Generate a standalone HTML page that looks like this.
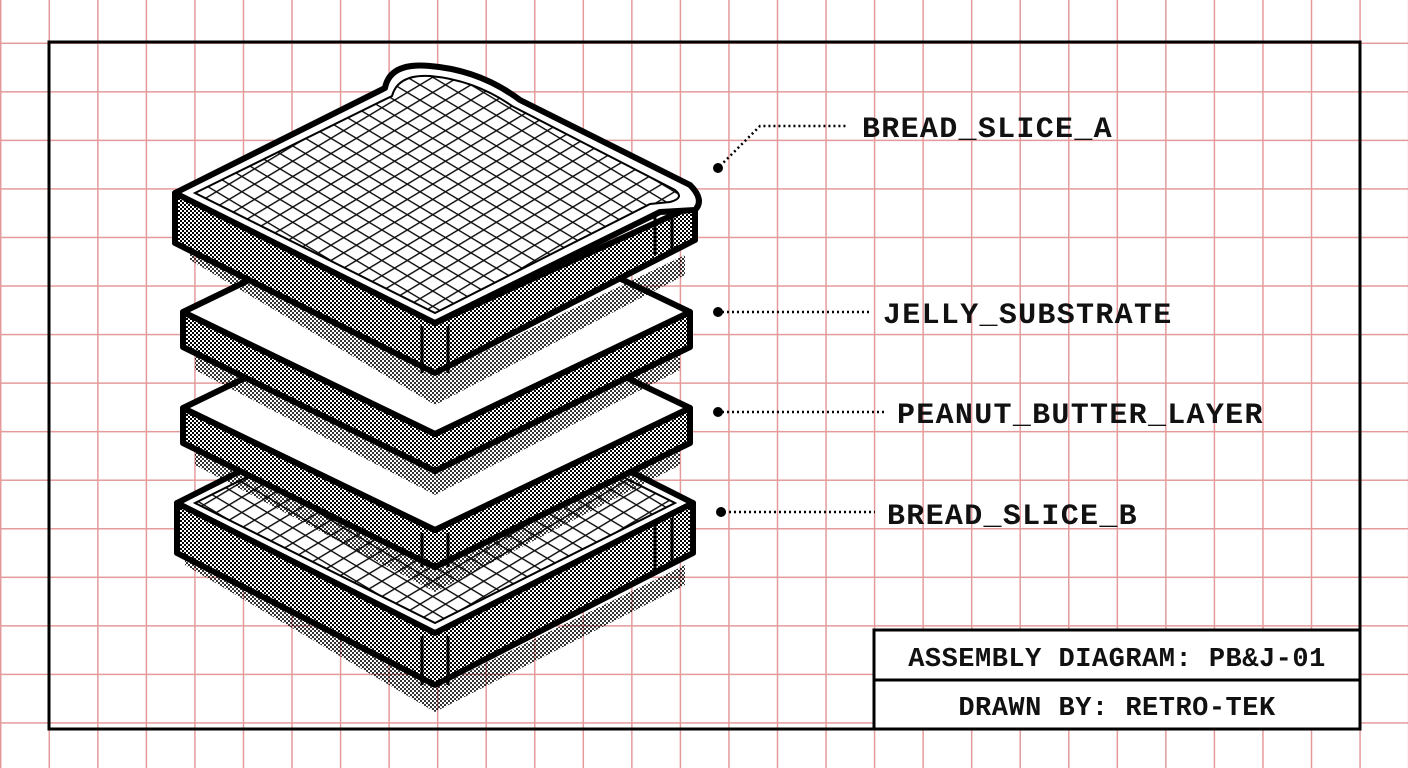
<!DOCTYPE html>
<html><head><meta charset="utf-8"><style>
html,body{margin:0;padding:0;background:#fff;}
body{width:1408px;height:768px;overflow:hidden;position:relative;
background-image:linear-gradient(to right,#e49a9a 0 1.5px,transparent 1.5px),linear-gradient(to bottom,#e49a9a 0 1.5px,transparent 1.5px);
background-size:48.55px 48.55px;background-position:0 -6px;}
svg{position:absolute;left:0;top:0;}
text{font-family:"Liberation Mono","DejaVu Sans Mono",monospace;font-weight:bold;fill:#111;}
</style></head><body>
<svg width="1408" height="768" viewBox="0 0 1408 768">
<defs>
<pattern id="d" width="4" height="4" patternUnits="userSpaceOnUse"><rect width="4" height="4" fill="#fff"/><rect width="2" height="2" fill="#000"/><rect x="2" y="2" width="2" height="2" fill="#000"/></pattern>
<pattern id="s" width="4" height="4" patternUnits="userSpaceOnUse"><rect width="2" height="2" fill="#000"/><rect x="2" y="2" width="2" height="2" fill="#000"/></pattern>
<pattern id="h" width="18" height="18" patternUnits="userSpaceOnUse" patternTransform="scale(1,0.6) rotate(45)"><rect width="18" height="18" fill="#fff"/><path d="M0 1H18M1 0V18" stroke="#111" stroke-width="2"/></pattern>
</defs>
<rect x="49" y="42" width="1311" height="687" fill="none" stroke="#000" stroke-width="3"/>

<!-- Bread B -->
<path d="M185 545 L435 688 L685 565 L685 585 L435 712 L185 565Z" fill="url(#s)" opacity="0.8"/>
<g stroke="#000" stroke-width="6" stroke-linejoin="round">
<path d="M177 503 L435 633 L693 503 L693 553 L435 685 L177 553Z" fill="url(#d)"/>
<path d="M177 503 L435 373 L693 503 L435 633Z" fill="#fff"/>
</g>
<path d="M195 503 L435 383 L675 503 L435 623Z" fill="url(#h)" stroke="#000" stroke-width="2"/>
<path d="M422 636 V685 M448 636 V685" stroke="#000" stroke-width="3"/>
<path d="M655 525 V570 M672 518 V565" stroke="#000" stroke-width="3"/>

<!-- PB -->
<path d="M195 440 L435 565 L680 445 L680 465 L435 592 L195 465Z" fill="url(#s)" opacity="0.8"/>
<g stroke="#000" stroke-width="6" stroke-linejoin="round">
<path d="M183 408 L435 530 L690 408 L690 443 L435 567 L183 443Z" fill="url(#d)"/>
<path d="M183 408 L435 286 L690 408 L435 530Z" fill="#fff"/>
</g>
<path d="M422 533 V567 M448 533 V567" stroke="#000" stroke-width="3"/>

<!-- Jelly -->
<path d="M195 345 L435 470 L680 350 L680 370 L435 495 L195 370Z" fill="url(#s)" opacity="0.8"/>
<g stroke="#000" stroke-width="6" stroke-linejoin="round">
<path d="M183 312 L435 434 L690 312 L690 347 L435 471 L183 347Z" fill="url(#d)"/>
<path d="M183 312 L435 190 L690 312 L435 434Z" fill="#fff"/>
</g>

<!-- Bread A -->
<path d="M190 235 L435 375 L685 255 L685 275 L435 405 L190 260Z" fill="url(#s)" opacity="0.8"/>
<g stroke="#000" stroke-width="6" stroke-linejoin="round">
<path d="M175 193 L435 323 L695 205 L695 240 L435 373 L175 243Z" fill="url(#d)"/>
<path d="M175 193 L385 88 Q390 62 430 66 Q480 70 520 100 L690 185 Q705 200 695 210 L660 212 L435 323Z" fill="#fff"/>
</g>
<path d="M195 193 L392 96 Q398 74 430 76 Q475 80 512 106 L675 190 Q685 198 670 202 L650 204 L435 313Z" fill="url(#h)" stroke="#000" stroke-width="2"/>
<path d="M422 326 V373 M448 326 V373" stroke="#000" stroke-width="3"/>
<path d="M655 215 V255 M672 212 V250" stroke="#000" stroke-width="3"/>

<!-- leaders -->
<g stroke="#000" stroke-width="2.5" stroke-dasharray="2 3" fill="none">
<path d="M720 166 L760 126 H848"/>
<path d="M722 312 H870"/>
<path d="M722 412 H885"/>
<path d="M724 512 H875"/>
</g>
<g fill="#000"><circle cx="718" cy="168" r="5"/><circle cx="718" cy="312" r="5"/><circle cx="718" cy="412" r="5"/><circle cx="721" cy="512" r="5"/></g>
<g font-size="30" letter-spacing="1.3">
<text x="862" y="137">BREAD_SLICE_A</text>
<text x="883" y="323">JELLY_SUBSTRATE</text>
<text x="897" y="423">PEANUT_BUTTER_LAYER</text>
<text x="887" y="524">BREAD_SLICE_B</text>
</g>

<!-- title block -->
<rect x="874" y="630" width="486" height="99" fill="#fff" stroke="#000" stroke-width="3"/>
<line x1="874" y1="680" x2="1360" y2="680" stroke="#000" stroke-width="3"/>
<g font-size="27" text-anchor="middle" letter-spacing="0.5">
<text x="1117" y="666">ASSEMBLY DIAGRAM: PB&amp;J-01</text>
<text x="1117" y="715">DRAWN BY: RETRO-TEK</text>
</g>
</svg>
</body></html>
